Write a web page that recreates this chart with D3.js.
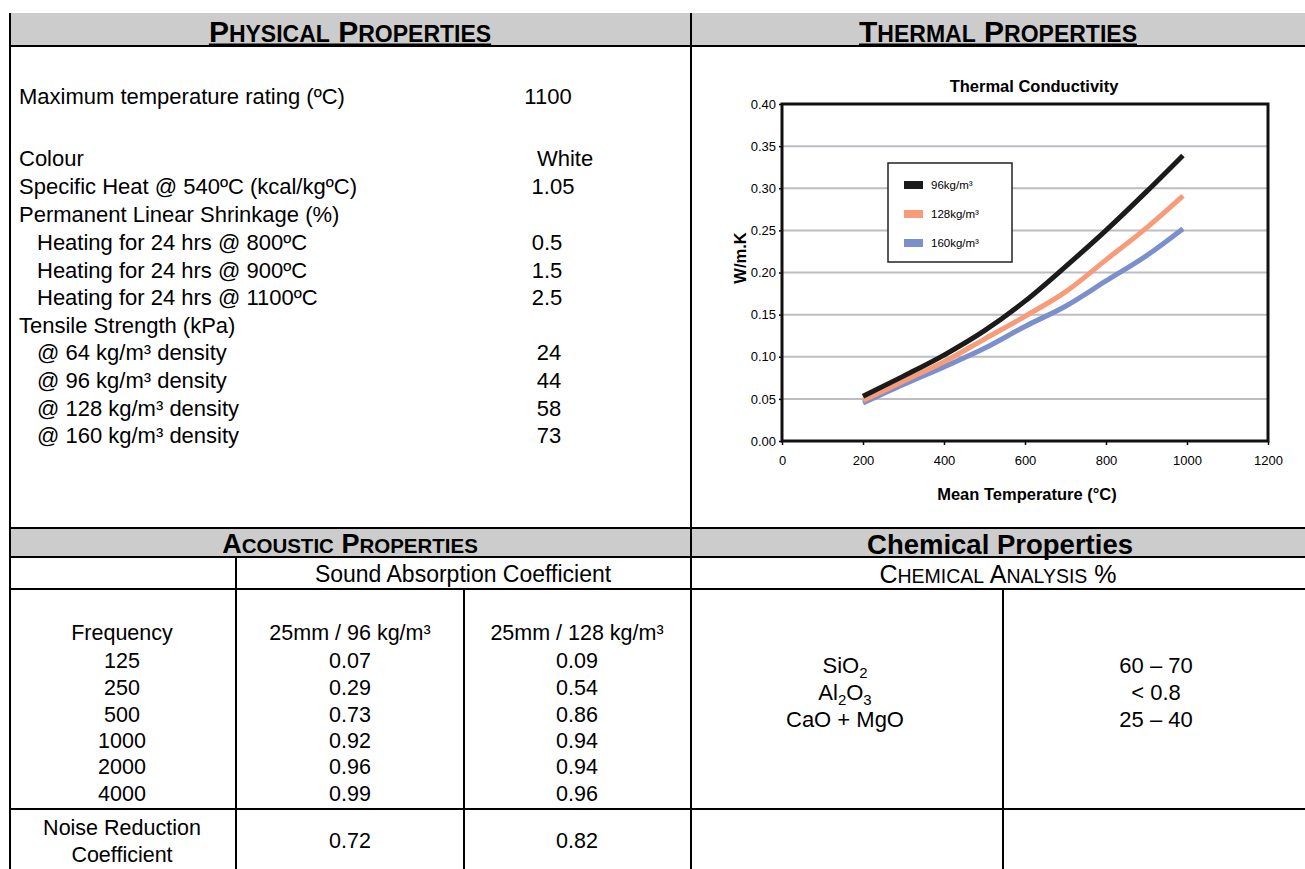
<!DOCTYPE html>
<html>
<head>
<meta charset="utf-8">
<script src="https://cdn.jsdelivr.net/npm/d3@7"></script>
<style>
  html, body { margin: 0; padding: 0; background: #fff; }
  svg { display: block; }
  text { font-family: "Liberation Sans", Arial, Helvetica, sans-serif; fill: #000; }
</style>
</head>
<body>
<svg id="chart" width="1305" height="869"></svg>
<script>
// ---------- DATA ----------
const temps = [200, 300, 400, 500, 600, 700, 800, 900, 990];
const k96  = [0.053, 0.077, 0.102, 0.131, 0.166, 0.207, 0.250, 0.296, 0.339];
const k128 = [0.048, 0.071, 0.094, 0.121, 0.148, 0.177, 0.215, 0.253, 0.291];
const k160 = [0.045, 0.067, 0.088, 0.110, 0.136, 0.160, 0.190, 0.220, 0.252];
const seriesNames = ["96kg/m³", "128kg/m³", "160kg/m³"];
const xTicks = [0, 200, 400, 600, 800, 1000, 1200];
const yTicks = [0, 0.05, 0.10, 0.15, 0.20, 0.25, 0.30, 0.35, 0.40];

const physLabels = ["Maximum temperature rating (ºC)", "Colour", "Specific Heat @ 540ºC (kcal/kgºC)",
  "Permanent Linear Shrinkage (%)", "Heating for 24 hrs @ 800ºC", "Heating for 24 hrs @ 900ºC",
  "Heating for 24 hrs @ 1100ºC", "Tensile Strength (kPa)", "@ 64 kg/m³ density",
  "@ 96 kg/m³ density", "@ 128 kg/m³ density", "@ 160 kg/m³ density"];
const physValues = ["1100", "White", "1.05", "", "0.5", "1.5", "2.5", "", "24", "44", "58", "73"];
const physIndent = [false, false, false, false, true, true, true, false, true, true, true, true];

const acFreq = ["125", "250", "500", "1000", "2000", "4000"];
const ac96 = ["0.07", "0.29", "0.73", "0.92", "0.96", "0.99"];
const ac128 = ["0.09", "0.54", "0.86", "0.94", "0.94", "0.96"];
const nrc = ["0.72", "0.82"];

const chemNames = [["SiO", "2", ""], ["Al", "2", "O", "3"], ["CaO + MgO"]];
const chemValues = ["60 – 70", "< 0.8", "25 – 40"];

// ---------- LAYOUT ----------
const svg = d3.select("#chart");
const L = 10, MID = 691, R = 1305, BOT = 869;
const FS = 21.5;

function hline(y, x1, x2, w = 2) {
  svg.append("line").attr("x1", x1).attr("x2", x2).attr("y1", y).attr("y2", y)
    .attr("stroke", "#000").attr("stroke-width", w);
}
function vline(x, y1, y2, w = 2) {
  svg.append("line").attr("x1", x).attr("x2", x).attr("y1", y1).attr("y2", y2)
    .attr("stroke", "#000").attr("stroke-width", w);
}
function txt(x, y, s, opts = {}) {
  return svg.append("text").attr("x", x).attr("y", y)
    .attr("text-anchor", opts.anchor || "middle")
    .attr("dominant-baseline", "central")
    .attr("font-size", opts.size || FS)
    .attr("font-weight", opts.weight || "normal")
    .text(s);
}
function smallCaps(x, y, s, big, small, weight, underline) {
  const t = svg.append("text").attr("x", x).attr("y", y).attr("text-anchor", "middle")
    .attr("font-weight", weight);
  const words = s.split(" ");
  words.forEach((w, i) => {
    const first = (i > 0 ? " " : "") + w[0];
    t.append("tspan").attr("font-size", big).text(first);
    if (w.length > 1) t.append("tspan").attr("font-size", small).text(w.slice(1).toUpperCase());
  });
  if (underline) {
    const bb = t.node().getBBox();
    hline(y + 2.5, bb.x, bb.x + bb.width, 2);
  }
  return t;
}

// grey bands
svg.append("rect").attr("x", L).attr("y", 13).attr("width", R - L).attr("height", 33).attr("fill", "#cccccc");
svg.append("rect").attr("x", L).attr("y", 528).attr("width", R - L).attr("height", 29).attr("fill", "#cccccc");

// headers
smallCaps(350, 42, "Physical Properties", 30, 23, "bold", true);
smallCaps(998, 42, "Thermal Properties", 30, 23, "bold", true);
smallCaps(350, 553, "Acoustic Properties", 27, 20.5, "bold", false);
svg.append("text").attr("x", 1000).attr("y", 554).attr("text-anchor", "middle")
  .attr("font-size", 27.5).attr("font-weight", "bold").text("Chemical Properties");

// grid lines of the table
hline(46, L - 1, R);
hline(528, L - 1, R);
hline(557, L - 1, R);
hline(589, L - 1, R);
hline(809, L - 1, R);
vline(L, 13, BOT);
vline(MID, 13, BOT);
vline(236, 557, BOT);
vline(464, 589, BOT);
vline(1003, 589, BOT);

txt(463, 574, "Sound Absorption Coefficient", { size: 23 });
smallCaps(998, 583, "Chemical Analysis %", 25, 19.5, "normal", false);

// physical properties rows
const physY = [96, 158, 186, 214, 242, 270, 297, 325, 352, 380, 408, 435];
const physValX = [548, 565, 553, 550, 547, 547, 547, 550, 549, 549, 549, 549];
physLabels.forEach((s, i) => {
  txt(physIndent[i] ? 37 : 19, physY[i], s, { anchor: "start", size: 22 });
  if (physValues[i]) txt(physValX[i], physY[i], physValues[i], { size: 22 });
});

// acoustic table
const acY = [661, 688, 715, 741, 767, 794];
txt(122, 633, "Frequency");
txt(350, 633, "25mm / 96 kg/m³");
txt(577, 633, "25mm / 128 kg/m³");
acFreq.forEach((f, i) => {
  txt(122, acY[i], f);
  txt(350, acY[i], ac96[i]);
  txt(577, acY[i], ac128[i]);
});
txt(122, 828, "Noise Reduction");
txt(122, 855, "Coefficient");
txt(350, 841, nrc[0]);
txt(577, 841, nrc[1]);

// chemical table
const chemY = [665, 692, 719];
chemNames.forEach((parts, i) => {
  const t = svg.append("text").attr("x", 845).attr("y", chemY[i] + 8).attr("text-anchor", "middle")
    .attr("font-size", 22);
  parts.forEach((p, j) => {
    if (!p) return;
    const sub = (parts.length > 1 && j % 2 === 1);
    t.append("tspan").attr("font-size", sub ? 15 : 22).attr("dy", sub ? 5 : (j > 0 ? -5 : 0)).text(p);
  });
  txt(1156, chemY[i], chemValues[i], { size: 22 });
});

// ---------- CHART ----------
const x = d3.scaleLinear().domain([0, 1200]).range([782, 1268]);
const y = d3.scaleLinear().domain([0, 0.4]).range([441, 104]);
const g = svg.append("g");

// gridlines
g.selectAll("line.grid").data(yTicks.slice(1, -1)).join("line")
  .attr("x1", x(0)).attr("x2", x(1200)).attr("y1", d => y(d)).attr("y2", d => y(d))
  .attr("stroke", "#bdbdc2").attr("stroke-width", 2);

// axes
const yAxis = g.append("g").attr("transform", `translate(${x(0)},0)`)
  .call(d3.axisLeft(y).tickValues(yTicks).tickFormat(d3.format(".2f")).tickSize(3).tickPadding(3));
const xAxis = g.append("g").attr("transform", `translate(0,${y(0)})`)
  .call(d3.axisBottom(x).tickValues(xTicks).tickFormat(d3.format("d")).tickSize(4).tickPadding(11));
[yAxis, xAxis].forEach(a => {
  a.select(".domain").remove();
  a.selectAll("line").attr("stroke", "#000").attr("stroke-width", 1.5);
  a.selectAll("text").attr("font-size", 13).attr("fill", "#333")
    .attr("font-family", "'Liberation Sans', Arial, sans-serif");
});

// frame
g.append("rect").attr("x", x(0)).attr("y", y(0.4)).attr("width", x(1200) - x(0)).attr("height", y(0) - y(0.4))
  .attr("fill", "none").attr("stroke", "#111").attr("stroke-width", 3);

// lines
const colors = ["#1b1b1b", "#f89b78", "#7b8fcd"];
const series = [k96, k128, k160];
const line = d3.line().x((d, i) => x(temps[i])).y(d => y(d)).curve(d3.curveMonotoneX);
[2, 1, 0].forEach(si => {
  g.append("path").datum(series[si]).attr("d", line).attr("fill", "none")
    .attr("stroke", colors[si]).attr("stroke-width", 5);
});

// titles
g.append("text").attr("x", 1034).attr("y", 92).attr("text-anchor", "middle")
  .attr("font-size", 16.5).attr("font-weight", "bold").attr("fill", "#222").text("Thermal Conductivity");
g.append("text").attr("x", 1027).attr("y", 500).attr("text-anchor", "middle")
  .attr("font-size", 16.5).attr("font-weight", "bold").attr("fill", "#222").text("Mean Temperature (°C)");
g.append("text").attr("transform", "translate(746,258) rotate(-90)").attr("text-anchor", "middle")
  .attr("font-size", 16.5).attr("font-weight", "bold").attr("fill", "#222").text("W/m.K");

// legend
const lg = g.append("g");
lg.append("rect").attr("x", 888).attr("y", 163).attr("width", 124).attr("height", 99)
  .attr("fill", "#fff").attr("stroke", "#222").attr("stroke-width", 1.5);
seriesNames.forEach((n, i) => {
  const yy = 185 + i * 29;
  lg.append("rect").attr("x", 904).attr("y", yy - 4).attr("width", 19).attr("height", 8).attr("fill", colors[i]);
  lg.append("text").attr("x", 931).attr("y", yy).attr("dominant-baseline", "central")
    .attr("font-size", 11.5).attr("fill", "#222").text(n);
});
</script>
</body>
</html>
